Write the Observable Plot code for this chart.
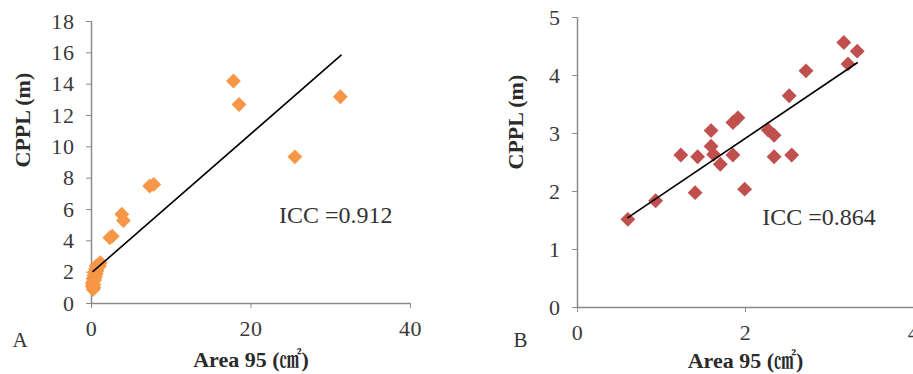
<!DOCTYPE html>
<html>
<head>
<meta charset="utf-8">
<script src="https://cdn.jsdelivr.net/npm/d3@7"></script>
<script src="https://cdn.jsdelivr.net/npm/@observablehq/plot@0.6"></script>
<style>
  html, body { margin: 0; padding: 0; background: #fff; }
  #wrap { display: flex; flex-direction: row; width: 913px; height: 374px; overflow: hidden; }
  #wrap svg [aria-label^="x-axis"] line,
  #wrap svg [aria-label^="y-axis"] line,
  #wrap svg [aria-label="x-axis tick"] path,
  #wrap svg [aria-label="y-axis tick"] path { stroke: #8a8a8a; }
  #wrap svg [aria-label^="x-axis"] text,
  #wrap svg [aria-label^="y-axis"] text { letter-spacing: 0.6px; }
</style>
</head>
<body>
<div id="wrap"></div>
<script>
// Panel A data
const aX = [17.8, 18.5, 31.2, 25.5, 7.3, 7.8, 3.8, 4.0, 2.3, 2.6,
            0.2, 0.1, 0.3, 0.1, 0.2, 0.3, 0.2, 0.4, 0.3, 0.5, 0.4, 0.6, 0.5, 0.7, 0.8, 0.6, 0.9, 1.1, 1.0];
const aY = [14.2, 12.7, 13.2, 9.36, 7.5, 7.6, 5.7, 5.3, 4.2, 4.3,
            0.9, 1.1, 1.0, 1.3, 1.4, 1.2, 1.6, 1.5, 1.8, 1.7, 2.0, 1.9, 2.2, 2.1, 2.3, 2.4, 2.5, 2.6, 2.4];
const aFitX = [0.2, 31.3];
const aFitY = [2.05, 15.85];
const aXTicks = [0, 20, 40];
const aYTicks = [0, 2, 4, 6, 8, 10, 12, 14, 16, 18];
const aICC = "ICC =0.912";

// Panel B data
const bX = [0.60, 0.93, 1.23, 1.43, 1.40, 1.59, 1.59, 1.62, 1.70, 1.85, 1.85, 1.91, 1.99,
            2.27, 2.34, 2.34, 2.55, 2.52, 2.72, 3.17, 3.22, 3.33];
const bY = [1.52, 1.84, 2.63, 2.60, 1.98, 3.05, 2.78, 2.64, 2.47, 2.63, 3.19, 3.27, 2.04,
            3.06, 2.97, 2.60, 2.63, 3.65, 4.08, 4.57, 4.20, 4.42];
const bFitX = [0.60, 3.33];
const bFitY = [1.55, 4.22];
const bXTicks = [0, 2, 4];
const bYTicks = [0, 1, 2, 3, 4, 5];
const bICC = "ICC =0.864";

const xLabel = "Area 95 (㎠)";
const yLabel = "CPPL (m)";

const FONT = "'Liberation Serif', 'Noto Serif CJK KR', 'Noto Sans CJK KR', serif";

function panel(o) {
  const pts = o.xs.map((x, i) => ({x, y: o.ys[i]}));
  const fit = o.fx.map((x, i) => ({x, y: o.fy[i]}));
  return Plot.plot({
    width: o.width,
    height: 374,
    marginLeft: o.ml,
    marginRight: o.mr,
    marginTop: o.mt,
    marginBottom: o.mb,
    style: {fontFamily: FONT, fontSize: "22px", color: "#3a3a3a", background: "white", overflow: "visible"},
    x: {domain: o.xd, ticks: o.xt, tickSize: 5, tickPadding: 12, label: null, tickFormat: d => String(d)},
    y: {domain: o.yd, ticks: o.yt, tickSize: 5, tickPadding: 12, label: null, tickFormat: d => String(d)},
    marks: [
      Plot.ruleY([o.yd[0]], {stroke: "#8a8a8a", strokeWidth: 1.5}),
      Plot.ruleX([o.xd[0]], {stroke: "#8a8a8a", strokeWidth: 1.5}),
      Plot.dot(pts, {x: "x", y: "y", symbol: "diamond2", r: 6.7, fill: o.color, stroke: "none"}),
      Plot.line(fit, {x: "x", y: "y", stroke: "black", strokeWidth: 1.6}),
      Plot.text([o.icc], {x: o.iccX, y: o.iccY, text: d => d, textAnchor: "start", fontSize: 24, fill: "#333", style: "letter-spacing:0.5px"}),
      Plot.text([yLabel], {frameAnchor: "left", rotate: -90, dx: o.ylDx, dy: o.ylDy, text: d => d, fontSize: 22, fontWeight: "bold", fill: "#2a2a2a"}),
      Plot.text([xLabel], {frameAnchor: "bottom", dy: o.xlDy, text: d => d, fontSize: 22, fontWeight: "bold", fill: "#2a2a2a", lineAnchor: "middle"}),
      Plot.text([o.tag], {frameAnchor: "bottom-left", dx: o.tagDx, dy: o.tagDy, text: d => d, fontSize: 21, textAnchor: "start", lineAnchor: "middle", fill: "#333"})
    ]
  });
}

const wrap = document.getElementById("wrap");
wrap.appendChild(panel({
  width: 460, ml: 91, mr: 50, mt: 21, mb: 71,
  xs: aX, ys: aY, fx: aFitX, fy: aFitY, xd: [0, 40], yd: [0, 18], xt: aXTicks, yt: aYTicks,
  color: "#F79646", icc: aICC, iccX: 23.5, iccY: 5.6,
  ylDx: -69, ylDy: 5, xlDy: 56, tag: "A", tagDx: -79, tagDy: 37
}));
wrap.appendChild(panel({
  width: 453, ml: 117, mr: 0, mt: 17, mb: 67,
  xs: bX, ys: bY, fx: bFitX, fy: bFitY, xd: [0, 4], yd: [0, 5], xt: bXTicks, yt: bYTicks,
  color: "#C0504D", icc: bICC, iccX: 2.2, iccY: 1.55,
  ylDx: -62, ylDy: 7, xlDy: 53, tag: "B", tagDx: -64, tagDy: 33
}));
</script>
</body>
</html>
